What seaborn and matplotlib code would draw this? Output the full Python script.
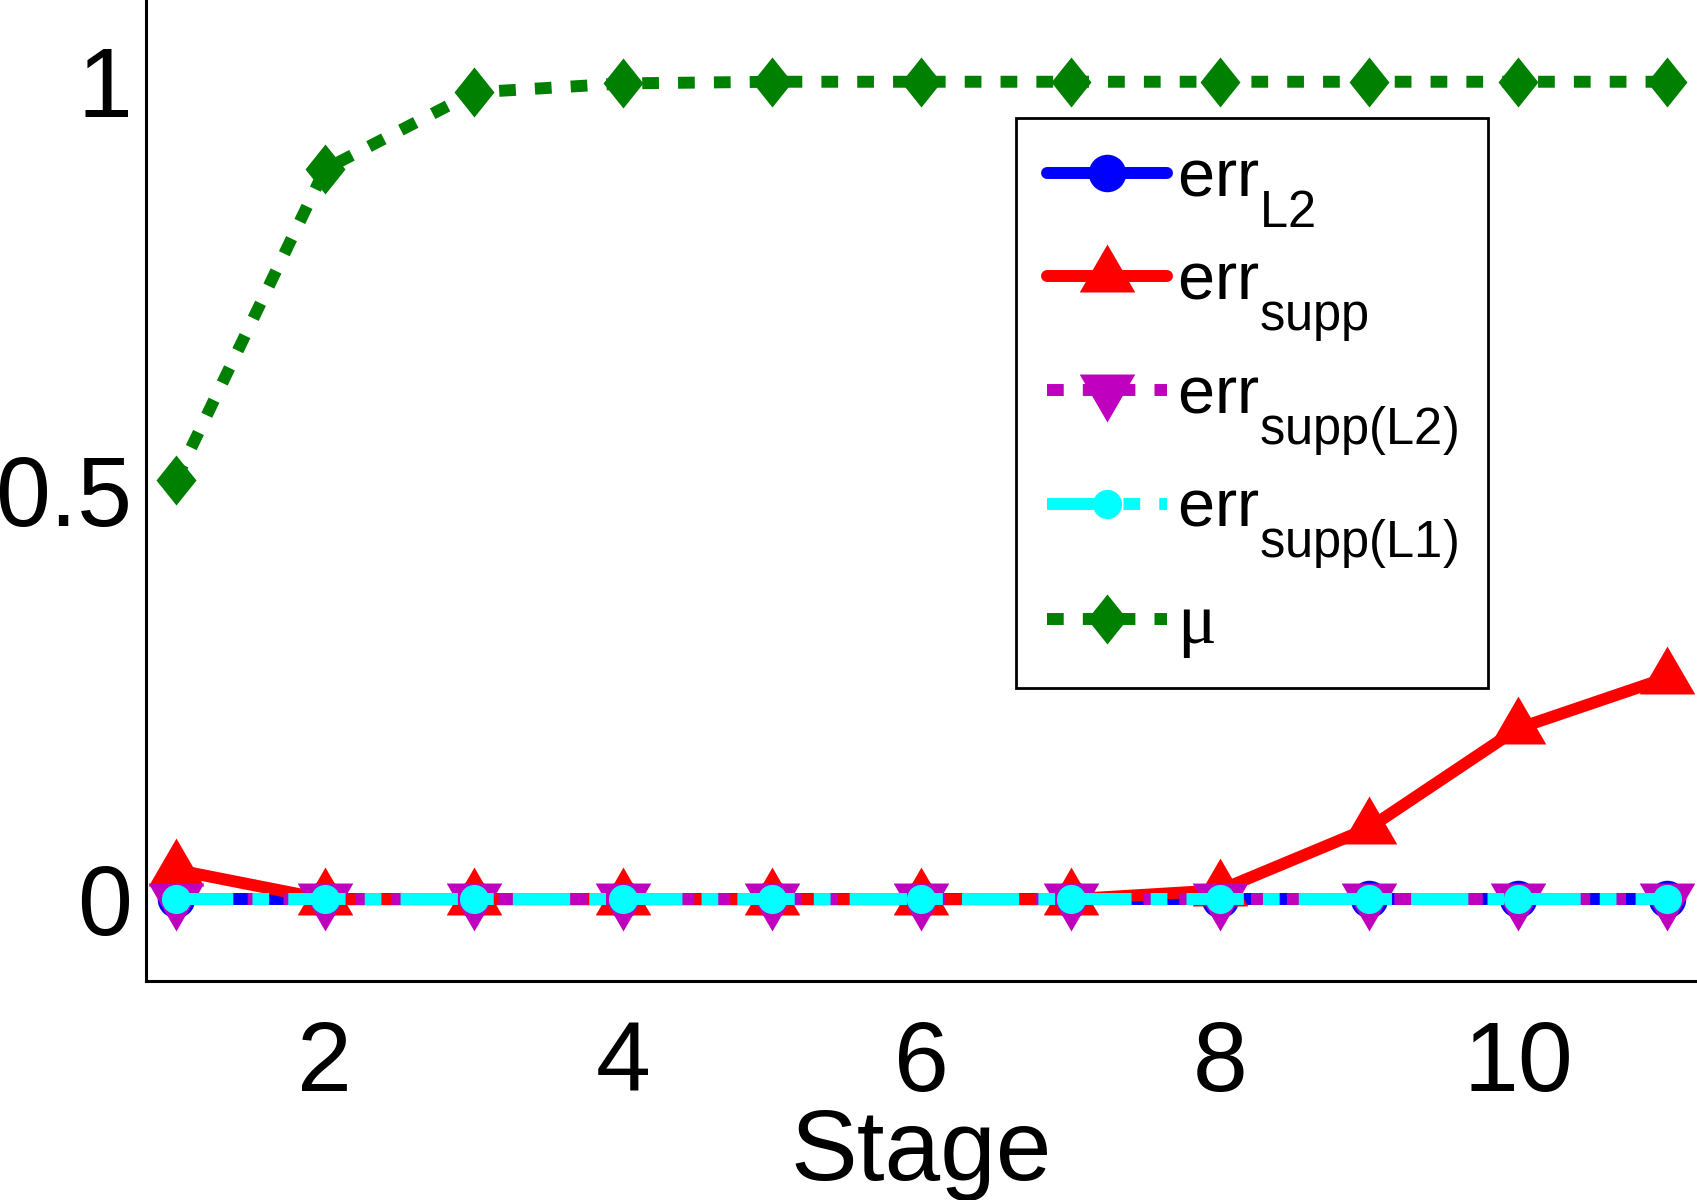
import matplotlib
matplotlib.use("Agg")
import matplotlib.pyplot as plt
import seaborn as sns
import numpy as np

# values
stage = [1, 2, 3, 4, 5, 6, 7, 8, 9, 10, 11]
err_l2 = [0, 0, 0, 0, 0, 0, 0, 0, 0, 0, 0]
err_supp = [0.036, 0, 0, 0, 0, 0, 0, 0.011, 0.087, 0.209, 0.271]
err_supp_l2 = [0, 0, 0, 0, 0, 0, 0, 0, 0, 0, 0]
err_supp_l1 = [0, 0, 0, 0, 0, 0, 0, 0, 0, 0, 0]
mu = [0.513, 0.893, 0.987, 0.998, 1, 1, 1, 1, 1, 1, 1]

labels = [r"err$_{\rm L2}$", r"err$_{\rm supp}$", r"err$_{\rm supp(L2)}$",
          r"err$_{\rm supp(L1)}$", "μ"]

sns.set_style("white")
plt.rcParams["font.family"] = ["Liberation Sans", "DejaVu Sans"]
plt.rcParams["text.color"] = "black"
plt.rcParams["axes.labelcolor"] = "black"
plt.rcParams["mathtext.fontset"] = "custom"
plt.rcParams["mathtext.rm"] = "Liberation Sans"
plt.rcParams["mathtext.it"] = "Liberation Sans:italic"

# MATLAB drops subscripts further (and shrinks them less) than mathtext
try:
    import matplotlib._mathtext as _mt
    _mt.FontConstantsBase.sub1 = 0.9
    _mt.SHRINK_FACTOR = 0.76
except Exception:
    pass

# MATLAB-like markers: triangles centred on centroid, tall diamond
tri_up = [(0, 1), (-0.87, -0.5), (0.87, -0.5), (0, 1)]
tri_dn = [(0, -1), (-0.87, 0.5), (0.87, 0.5), (0, -1)]
diamond = [(0, 1), (0.8, 0), (0, -1), (-0.8, 0), (0, 1)]

lw = 8.6
fig = plt.figure(figsize=(16.97, 12), dpi=100)
ax = fig.add_axes([0.086, 0.1825, 0.914, 0.8175])

series = [
    (err_l2, "#0000ff", "-", "o", 27),
    (err_supp, "#ff0000", "-", tri_up, 46),
    (err_supp_l2, "#bf00bf", (0, (1.4, 1.6)), tri_dn, 46),
    (err_supp_l1, "#00ffff", (0, (4.8, 1.6, 1.4, 1.6)), "o", 21),
    (mu, "#008000", (0, (1.4, 1.6)), diamond, 36),
]

for (vals, col, ls, mk, ms), lab in zip(series, labels):
    sns.lineplot(x=stage, y=vals, ax=ax, color=col, linestyle=ls, linewidth=lw,
                 marker=mk, markersize=ms, markeredgecolor=col,
                 markeredgewidth=0, label=lab, clip_on=False)

ax.set_xlim(0.8, 11.2)
ax.set_ylim(-0.1, 1.1)
ax.set_xticks([2, 4, 6, 8, 10])
ax.set_yticks([0, 0.5, 1])
ax.set_yticklabels(["0", "0.5", "1"])
ax.tick_params(direction="in", length=12, width=2, labelsize=71,
               colors="black")
ax.tick_params(axis="x", pad=28)
ax.tick_params(axis="y", pad=10)
for s in ["top", "right"]:
    ax.spines[s].set_visible(False)
for s in ["left", "bottom"]:
    ax.spines[s].set_linewidth(2.2)
    ax.spines[s].set_color("black")

ax.set_xlabel("Stage", fontsize=72, labelpad=-3, color="black")
ax.set_ylabel("")

leg = ax.legend(loc="upper left", bbox_to_anchor=(0.561, 0.880),
                borderaxespad=0, fontsize=48, frameon=True, fancybox=False,
                framealpha=1, edgecolor="black", handlelength=1.8,
                handletextpad=0.15, borderpad=0.46, labelspacing=0.32)
leg.get_frame().set_linewidth(2)
for t in leg.texts:
    t.set_color("black")
leg.texts[-1].set_family("Liberation Serif")
leg.texts[-1].set_fontsize(52)

fig.savefig("out.png", dpi=100)
